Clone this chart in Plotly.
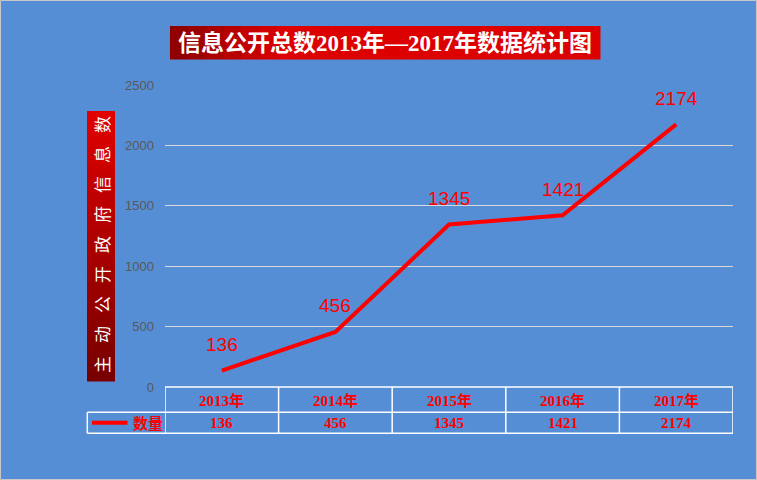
import plotly.graph_objects as go

categories = ["2013年", "2014年", "2015年", "2016年", "2017年"]
values = [136, 456, 1345, 1421, 2174]
series_name = "数量"
title_text = "信息公开总数2013年—2017年数据统计图"
ytitle_chars = list("主动公开政府信息数")
y_ticks = [0, 500, 1000, 1500, 2000, 2500]

W, H = 757, 480
L, R, T, B = 165, 24, 85, 93
PW, PH = W - L - R, H - T - B
BG = "#558ED5"
RED = "#FF0000"

def px(x):
    return (x - L) / PW

def py(y):
    return (H - B - y) / PH

fig = go.Figure()
xs = list(range(len(categories)))
fig.add_trace(go.Scatter(x=xs, y=values, mode="lines", name=series_name,
                         line=dict(color=RED, width=4), showlegend=False))

shapes = []
annotations = []

# outer border
shapes.append(dict(type="rect", xref="paper", yref="paper", x0=px(0.5), x1=px(756.5),
                   y0=py(479.5), y1=py(0.5), line=dict(color="#C8C8C8", width=1),
                   fillcolor="rgba(0,0,0,0)", layer="below"))

# title box (gradient approximated)
n = 24
x0b, x1b, y0b, y1b = 170, 600, 26, 59.5
for i in range(n):
    t = i / (n - 1)
    r = int(0x90 + (0xDC - 0x90) * min(1, t * 4))
    shapes.append(dict(type="rect", xref="paper", yref="paper",
                       x0=px(x0b + (x1b - x0b) * i / n), x1=px(x0b + (x1b - x0b) * (i + 1) / n + 0.5),
                       y0=py(y1b), y1=py(y0b), line=dict(width=0),
                       fillcolor=f"rgb({r},0,0)"))
annotations.append(dict(text=f"<b>{title_text}</b>", xref="paper", yref="paper",
                        x=px((x0b + x1b) / 2), y=py((y0b + y1b) / 2), showarrow=False,
                        xanchor="center", yanchor="middle",
                        font=dict(family="Liberation Serif, Noto Sans CJK SC", size=23, color="white")))

# y title box with vertical gradient
bx0, bx1, by0, by1 = 87, 115, 111, 381
n = 30
for i in range(n):
    t = i / (n - 1)
    r = int(0xE0 + (0x78 - 0xE0) * t)
    shapes.append(dict(type="rect", xref="paper", yref="paper", x0=px(bx0), x1=px(bx1),
                       y0=py(by0 + (by1 - by0) * (i + 1) / n + 0.5), y1=py(by0 + (by1 - by0) * i / n),
                       line=dict(width=0), fillcolor=f"rgb({r},0,0)"))
nc = len(ytitle_chars)
for i, ch in enumerate(ytitle_chars):
    cy = 365 - i * (365 - 125) / (nc - 1)
    annotations.append(dict(text=ch, xref="paper", yref="paper", x=px(101), y=py(cy),
                            showarrow=False, textangle=-90, xanchor="center", yanchor="middle",
                            font=dict(family="Noto Sans CJK SC", size=17, color="white")))

# data labels
for x, v in zip(xs, values):
    annotations.append(dict(text=str(v), x=x, y=v, xref="x", yref="y", showarrow=False,
                            yshift=26, xanchor="center", yanchor="middle",
                            font=dict(family="Liberation Sans, Arial", size=19, color=RED)))

# data table
row_top, row_mid, row_bot = 387, 412.3, 433.3
left_x = 87.3
lc = dict(color="white", width=1.5)
shapes.append(dict(type="line", xref="x", yref="paper", x0=-0.5, x1=len(categories) - 0.5,
                   y0=py(row_top), y1=py(row_top), line=lc))
for yy in (row_mid, row_bot):
    shapes.append(dict(type="line", xref="paper", yref="paper", x0=px(left_x), x1=px(L + PW),
                       y0=py(yy), y1=py(yy), line=lc))
for i in range(len(categories) + 1):
    shapes.append(dict(type="line", xref="x", yref="paper", x0=i - 0.5, x1=i - 0.5,
                       y0=py(row_bot), y1=py(row_top), line=lc))
shapes.append(dict(type="line", xref="paper", yref="paper", x0=px(left_x), x1=px(left_x),
                   y0=py(row_bot), y1=py(row_mid), line=lc))
for x, c, v in zip(xs, categories, values):
    annotations.append(dict(text=f"<b>{c}</b>", x=x, xref="x", yref="paper", y=py((row_top + row_mid) / 2 + 1),
                            showarrow=False, xanchor="center", yanchor="middle",
                            font=dict(family="Liberation Serif, Noto Sans CJK SC", size=15, color=RED)))
    annotations.append(dict(text=f"<b>{v}</b>", x=x, xref="x", yref="paper", y=py((row_mid + row_bot) / 2),
                            showarrow=False, xanchor="center", yanchor="middle",
                            font=dict(family="Liberation Serif, Noto Sans CJK SC", size=15, color=RED)))
# legend key
shapes.append(dict(type="line", xref="paper", yref="paper", x0=px(92), x1=px(127.5),
                   y0=py(422.7), y1=py(422.7), line=dict(color=RED, width=4)))
annotations.append(dict(text=f"<b>{series_name}</b>", xref="paper", yref="paper", x=px(147.5),
                        y=py(422.5), showarrow=False, xanchor="center", yanchor="middle",
                        font=dict(family="Noto Sans CJK SC", size=15, color=RED)))

fig.update_layout(
    width=W, height=H,
    margin=dict(l=L, r=R, t=T, b=B),
    paper_bgcolor=BG, plot_bgcolor=BG,
    shapes=shapes, annotations=annotations,
    showlegend=False,
    xaxis=dict(range=[-0.5, len(categories) - 0.5], showgrid=False, zeroline=False,
               showticklabels=False, ticks="", showline=False, fixedrange=True),
    yaxis=dict(range=[0, 2500], tickvals=y_ticks, showgrid=True, gridcolor="#D9D9D9", gridwidth=1,
               zeroline=False, showline=False, ticks="",
               tickfont=dict(family="Liberation Sans, Arial", size=13, color="#595959"),
               ticklabelstandoff=10, fixedrange=True),
)

fig.write_html("out.html")
